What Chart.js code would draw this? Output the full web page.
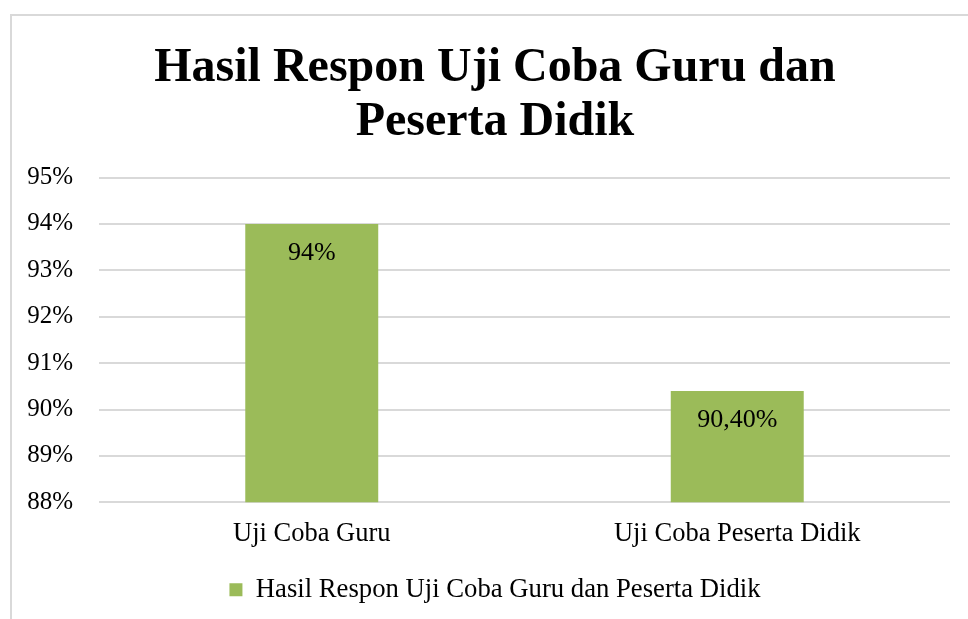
<!DOCTYPE html>
<html>
<head>
<meta charset="utf-8">
<script src="https://cdn.jsdelivr.net/npm/chart.js@4.4.0/dist/chart.umd.min.js"></script>
<style>
  html, body { margin: 0; padding: 0; background: #fff; overflow: hidden; }
  #cadre { position: absolute; left: 10px; top: 14px; width: 970px; height: 620px;
           border: 2px solid #d9d9d9; border-bottom: none; }
  #grafik { display: block; }
</style>
</head>
<body>
<div id="cadre"><canvas id="grafik" width="970" height="620"></canvas></div>
<script>
 var kategori    = [ "Uji Coba Guru", "Uji Coba Peserta Didik" ];
 var nilai       = [ 94, 90.4 ];
 var labelNilai  = [ "94%", "90,40%" ];
 var judul       = [ "Hasil Respon Uji Coba Guru dan", "Peserta Didik" ];
 var namaSeri    = "Hasil Respon Uji Coba Guru dan Peserta Didik";

 var hijau  = "#9bbb59";
 var garis  = "#d9d9d9";
 var huruf  = "'Liberation Serif', 'Times New Roman', serif";

/******************************** Label nilai di dalam batang, dekat ujung atas ***********************************/
 var labelBatang =
  { id: "labelBatang",
    afterDatasetsDraw: function (chart)
     { var ctx = chart.ctx;
       var meta = chart.getDatasetMeta(0);
       ctx.save();
       ctx.font = "26px " + huruf;
       ctx.fillStyle = "#000";
       ctx.textAlign = "center";
       ctx.textBaseline = "middle";
       meta.data.forEach( function (bar, i)
        { ctx.fillText( labelNilai[i], bar.x, bar.y + 29 ); } );
       ctx.restore();
     }
  };

/******************************** Judul dan legenda digeser ke tengah bingkai *************************************/
 var geserTengah =
  { id: "geserTengah",
    afterLayout: function (chart)
     { [ chart.titleBlock, chart.legend ].forEach( function (box)
        { if (box) { box.left += 10; box.right += 10; } } );
     }
  };

 var ctx = document.getElementById("grafik").getContext("2d");
 new Chart( ctx,
  { type: "bar",
    data: { labels: kategori,
            datasets: [ { label: namaSeri,
                          data: nilai,
                          backgroundColor: hijau,
                          borderWidth: 0,
                          barPercentage: 0.3125,
                          categoryPercentage: 1
                        } ]
          },
    options: { responsive: false,
               animation: false,
               layout: { padding: { left: 8, right: 32, top: 26, bottom: 23 } },
               scales: { x: { grid: { display: false },
                              border: { display: false },
                              ticks: { color: "#000", font: { family: huruf, size: 26.5 }, padding: 8 },
                              afterFit: function (scale) { scale.height = 64; }
                            },
                         y: { min: 88, max: 95,
                              grid: { color: garis, lineWidth: 2, drawTicks: false },
                              border: { display: false },
                              ticks: { stepSize: 1, color: "#000", padding: 26,
                                       font: { family: huruf, size: 25 },
                                       callback: function (v) { return v + "%"; } },
                              afterFit: function (scale) { scale.width = 79; }
                            }
                       },
               plugins: { title: { display: true, text: judul, color: "#000",
                                   font: { family: huruf, size: 48, weight: "bold", lineHeight: 1.12 },
                                   padding: { top: 0, bottom: 28 } },
                          legend: { position: "bottom",
                                    labels: { color: "#000", boxWidth: 13, boxHeight: 13, padding: 10,
                                              font: { family: huruf, size: 26.7 } } },
                          tooltip: { enabled: false }
                        }
             },
    plugins: [ labelBatang, geserTengah ]
  });
</script>
</body>
</html>
